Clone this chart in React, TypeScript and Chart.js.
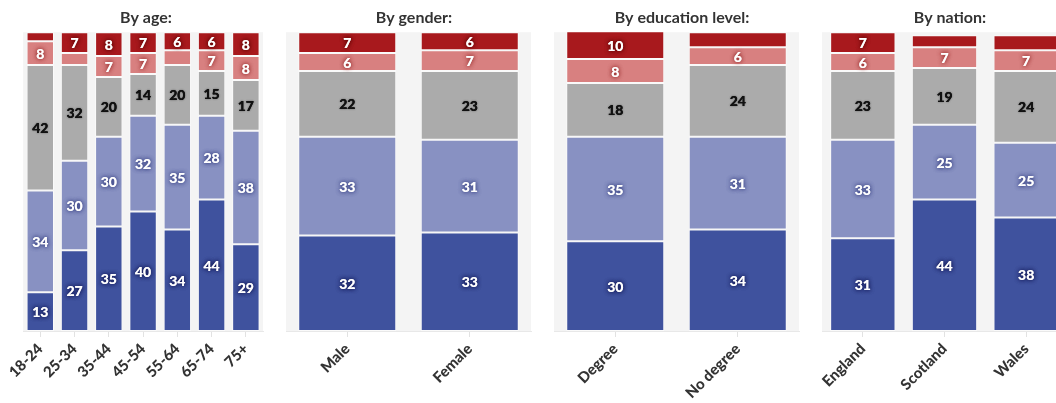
import React, { useEffect, useRef } from 'react';
import { Chart, registerables } from 'chart.js';

Chart.register(...registerables);

const FONT = 'Lato, "Open Sans", sans-serif';

// Series order (bottom to top): dark blue, light blue, grey, light red, dark red
const seriesNames = ['Group 1', 'Group 2', 'Group 3', 'Group 4', 'Group 5'];
const seriesColors = ['#3f529e', '#8891c2', '#ababab', '#d88080', '#a8191d'];
const labelShadows = [
  'rgba(15,20,80,0.9)',
  'rgba(40,50,120,0.8)',
  'rgba(0,0,0,0.25)',
  'rgba(140,30,30,0.8)',
  'rgba(90,0,0,0.9)',
];

// By age
const ageCategories = ['18-24', '25-34', '35-44', '45-54', '55-64', '65-74', '75+'];
const ageDarkBlue = [13, 27, 35, 40, 34, 44, 29];
const ageLightBlue = [34, 30, 30, 32, 35, 28, 38];
const ageGrey = [42, 32, 20, 14, 20, 15, 17];
const ageLightRed = [8, 4, 7, 7, 5, 7, 8];
const ageDarkRed = [3, 7, 8, 7, 6, 6, 8];

// By gender
const genderCategories = ['Male', 'Female'];
const genderDarkBlue = [32, 33];
const genderLightBlue = [33, 31];
const genderGrey = [22, 23];
const genderLightRed = [6, 7];
const genderDarkRed = [7, 6];

// By education level
const eduCategories = ['Degree', 'No degree'];
const eduDarkBlue = [30, 34];
const eduLightBlue = [35, 31];
const eduGrey = [18, 24];
const eduLightRed = [8, 6];
const eduDarkRed = [10, 5];

// By nation
const nationCategories = ['England', 'Scotland', 'Wales'];
const nationDarkBlue = [31, 44, 38];
const nationLightBlue = [33, 25, 25];
const nationGrey = [23, 19, 24];
const nationLightRed = [6, 7, 7];
const nationDarkRed = [7, 4, 5];

const panels = [
  { title: 'By age:', categories: ageCategories, series: [ageDarkBlue, ageLightBlue, ageGrey, ageLightRed, ageDarkRed] },
  { title: 'By gender:', categories: genderCategories, series: [genderDarkBlue, genderLightBlue, genderGrey, genderLightRed, genderDarkRed] },
  { title: 'By education level:', categories: eduCategories, series: [eduDarkBlue, eduLightBlue, eduGrey, eduLightRed, eduDarkRed] },
  { title: 'By nation:', categories: nationCategories, series: [nationDarkBlue, nationLightBlue, nationGrey, nationLightRed, nationDarkRed] },
];

const bgPlugin = {
  id: 'plotBg',
  beforeDatasetsDraw(chart: any) {
    const { ctx, chartArea } = chart;
    ctx.save();
    ctx.fillStyle = '#f4f4f4';
    ctx.fillRect(chartArea.left, chartArea.top, chartArea.right - chartArea.left, chartArea.bottom - chartArea.top);
    ctx.restore();
  },
};

const segLabelPlugin = {
  id: 'segLabels',
  afterDatasetsDraw(chart: any) {
    const ctx = chart.ctx;
    ctx.save();
    ctx.font = `900 14px ${FONT}`;
    ctx.textAlign = 'center';
    ctx.textBaseline = 'middle';
    chart.data.datasets.forEach((ds: any, di: number) => {
      const meta = chart.getDatasetMeta(di);
      meta.data.forEach((el: any, i: number) => {
        const v = ds.data[i];
        if (v < 6) return;
        const p = el.getProps(['x', 'y', 'base'], true);
        const top = Math.max(p.y, chart.chartArea.top);
        const cy = (top + p.base) / 2 + 1;
        ctx.shadowColor = labelShadows[di];
        ctx.shadowBlur = di === 2 ? 2 : 4;
        ctx.fillStyle = di === 2 ? '#111111' : '#ffffff';
        ctx.fillText(String(v), p.x, cy);
        ctx.fillText(String(v), p.x, cy);
      });
    });
    ctx.restore();
  },
};

function Panel({ panel, left }: { panel: any; left: number }) {
  const ref = useRef<HTMLCanvasElement>(null);
  useEffect(() => {
    if (!ref.current) return;
    const chart = new Chart(ref.current, {
      type: 'bar',
      data: {
        labels: panel.categories,
        datasets: panel.series.map((s: number[], i: number) => ({
          label: seriesNames[i],
          data: s,
          backgroundColor: seriesColors[i],
          borderColor: 'rgba(255,255,255,0.55)',
          borderWidth: 1,
          borderSkipped: false,
          barPercentage: 0.8,
          categoryPercentage: 1,
        })),
      },
      options: {
        responsive: false,
        animation: false,
        layout: { padding: { left: 10, right: 2, top: 0, bottom: 0 } },
        plugins: {
          legend: { display: false },
          tooltip: { enabled: false },
          title: {
            display: true,
            text: panel.title,
            color: '#333333',
            font: { family: FONT, size: 16, weight: 'bold' },
            padding: { top: 0, bottom: 5 },
          },
        },
        scales: {
          x: {
            stacked: true,
            grid: {
              display: true,
              drawOnChartArea: false,
              drawTicks: true,
              tickLength: 6,
              color: '#e2e2e2',
              offset: false,
            },
            border: { display: true, color: '#e8e8e8' },
            ticks: {
              maxRotation: 45,
              minRotation: 45,
              autoSkip: false,
              color: '#333333',
              padding: 3,
              font: { family: FONT, size: 15, weight: '900' },
            },
            afterFit: (s: any) => {
              s.height = 72;
            },
          },
          y: {
            stacked: true,
            min: 0,
            max: 100,
            position: 'right',
            ticks: { display: false },
            grid: { display: false },
            border: { display: false },
            afterFit: (s: any) => {
              s.width = 11;
            },
          },
        },
      } as any,
      plugins: [bgPlugin, segLabelPlugin],
    });
    return () => chart.destroy();
  }, [panel]);
  return (
    <canvas
      ref={ref}
      width={268}
      height={395}
      style={{ position: 'absolute', left, top: 8, width: 268, height: 395 }}
    />
  );
}

export default function App() {
  return (
    <div
      style={{
        position: 'fixed',
        left: 0,
        top: 0,
        width: 1056,
        height: 403,
        overflow: 'hidden',
        background: '#ffffff',
      }}
    >
      {panels.map((p, i) => (
        <Panel key={p.title} panel={p} left={8 + 268 * i} />
      ))}
    </div>
  );
}
